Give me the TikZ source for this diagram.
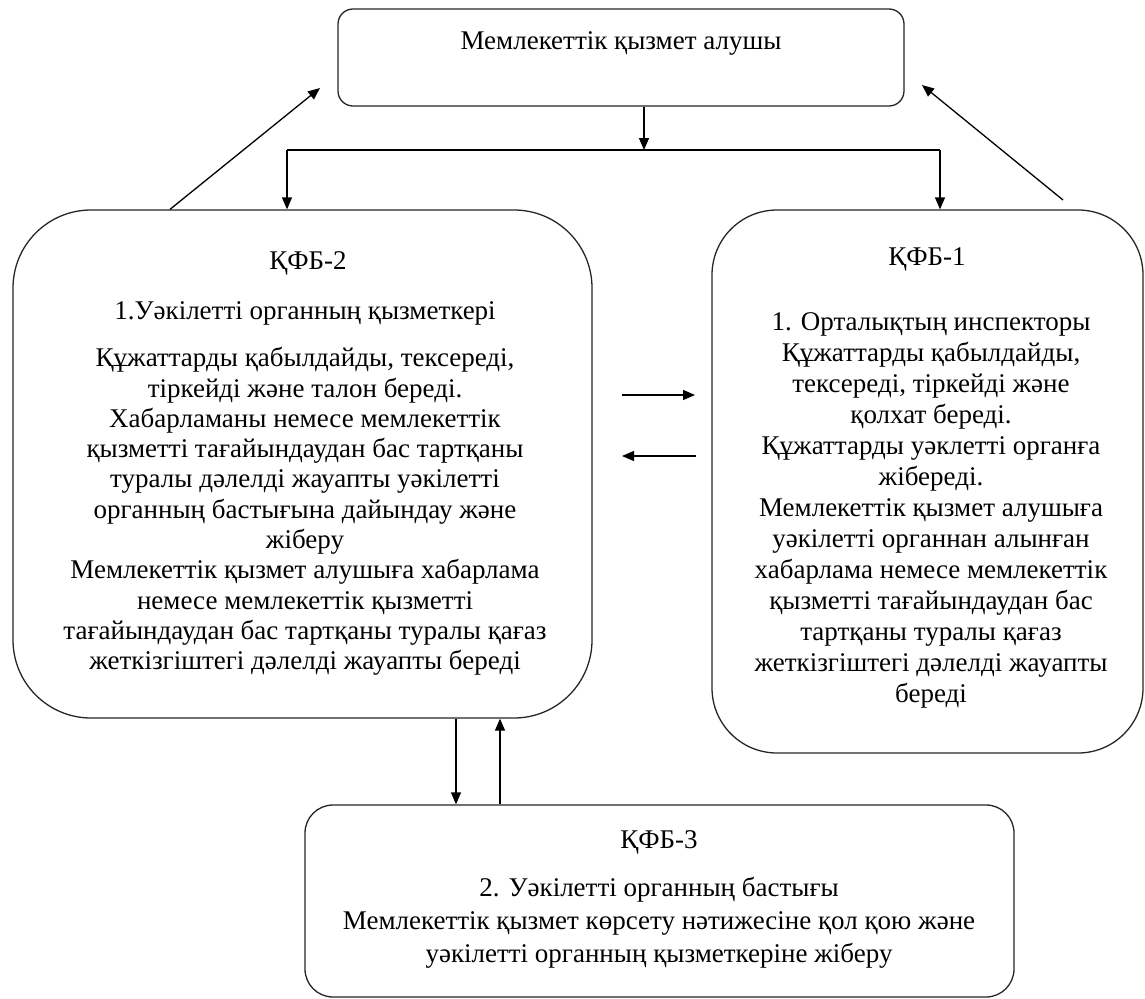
\documentclass[tikz,border=0pt]{standalone}
\usepackage{fontspec}
\setmainfont{Liberation Serif}
\usetikzlibrary{arrows.meta}
\begin{document}
\begin{tikzpicture}[x=1pt,y=-1pt,
  box/.style={draw=black!85,line width=1.3pt,fill=white,inner sep=0pt},
  arr/.style={draw=black,line width=1.3pt,-{Triangle[length=12pt,width=10pt]}},
  ln/.style={draw=black,line width=1.3pt},
  txt/.style={align=center,inner sep=0pt,font=\fontsize{27}{30.3}\selectfont}]
\useasboundingbox (0,0) rectangle (1145,998);
% boxes
\node[box,rounded corners=15pt,minimum width=566pt,minimum height=97pt] (top) at (621,57.5) {};
\node[box,rounded corners=78pt,minimum width=579pt,minimum height=508pt] (kfb2) at (302.5,464) {};
\node[box,rounded corners=65pt,minimum width=431pt,minimum height=543pt] (kfb1) at (927.5,481.5) {};
\node[box,rounded corners=28pt,minimum width=709pt,minimum height=192pt] (kfb3) at (659.5,901) {};
% texts
\node[txt] (ttop) at (621,43) {Мемлекеттік қызмет алушы};
\node[txt] (t2a) at (308,263) {ҚФБ-2};
\node[txt] (t2b) at (305,313) {1.Уәкілетті органның қызметкері};
\node[txt] (t2c) at (305,511.5) {Құжаттарды қабылдайды, тексереді,\\тіркейді және талон береді.\\Хабарламаны немесе мемлекеттік\\қызметті тағайындаудан бас тартқаны\\туралы дәлелді жауапты уәкілетті\\органның бастығына дайындау және\\жіберу\\Мемлекеттік қызмет алушыға хабарлама\\немесе мемлекеттік қызметті\\тағайындаудан бас тартқаны туралы қағаз\\жеткізгіштегі дәлелді жауапты береді};
\node[txt] (t1a) at (927,259) {ҚФБ-1};
\node[txt,font=\fontsize{27}{31}\selectfont] (t1b) at (931,510) {1. Орталықтың инспекторы\\Құжаттарды қабылдайды,\\тексереді, тіркейді және\\қолхат береді.\\Құжаттарды уәклетті органға\\жібереді.\\Мемлекеттік қызмет алушыға\\уәкілетті органнан алынған\\хабарлама немесе мемлекеттік\\қызметті тағайындаудан бас\\тартқаны туралы қағаз\\жеткізгіштегі дәлелді жауапты\\береді};
\node[txt] (t3a) at (659,842) {ҚФБ-3};
\node[txt,font=\fontsize{27}{33}\selectfont] (t3b) at (659,923) {2. Уәкілетті органның бастығы\\Мемлекеттік қызмет көрсету нәтижесіне қол қою және\\уәкілетті органның қызметкеріне жіберу};
% coordinates
\coordinate (j) at (644,150);
\coordinate (jl) at (287,150);
\coordinate (jr) at (940,150);
\coordinate (dls) at (170,0);
\coordinate (dle) at (320,88);
\coordinate (drs) at (1063,200);
\coordinate (dre) at (922,85);
\coordinate (hrs) at (622,395);
\coordinate (hre) at (695,395);
\coordinate (hls) at (696,456);
\coordinate (hle) at (622,456);
\coordinate (vd) at (456,0);
\coordinate (vu) at (500,0);
% connectors
\draw[arr] (top.south -| j) -- (j);
\draw[ln] (jl) -- (jr);
\draw[arr] (jl) -- (jl |- kfb2.north);
\draw[arr] (jr) -- (jr |- kfb1.north);
\draw[arr] (kfb2.north -| dls) -- (dle);
\draw[arr] (drs) -- (dre);
\draw[arr] (hrs) -- (hre);
\draw[arr] (hls) -- (hle);
\draw[arr] (kfb2.south -| vd) -- (kfb3.north -| vd);
\draw[arr] (kfb3.north -| vu) -- (kfb2.south -| vu);
\end{tikzpicture}
\end{document}
